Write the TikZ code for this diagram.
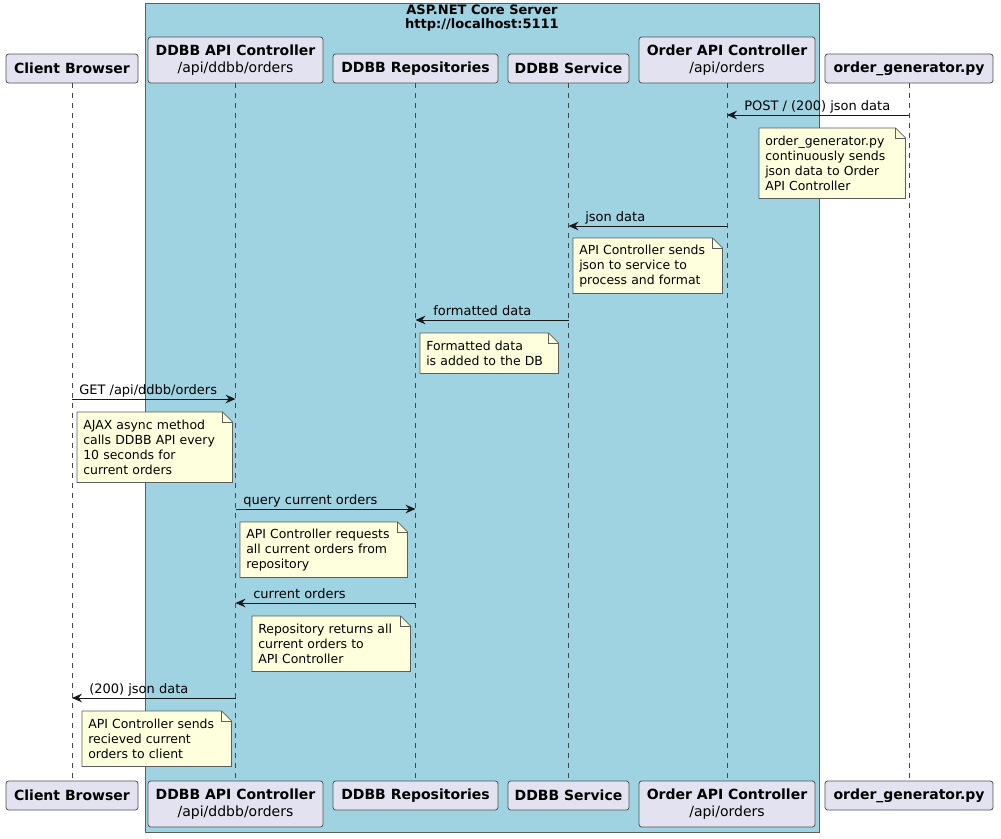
\documentclass[tikz,border=0pt]{standalone}
\usepackage{fontspec}
\setmainfont{DejaVu Sans}
\usetikzlibrary{arrows.meta,backgrounds}
\definecolor{srvblue}{RGB}{159,211,225}
\definecolor{partfill}{HTML}{E2E2F0}
\definecolor{notefill}{HTML}{FEFFDD}
\definecolor{edge}{HTML}{181818}

\begin{document}
\begin{tikzpicture}
[x=0.75pt,y=-0.75pt,
%%%%%%%%%%%%%%%%%%%%%%%%%%%%%%
part/.style={rectangle,rounded corners=2pt,draw=edge!75,line width=0.6pt,fill=partfill,minimum height=21.75pt,inner sep=0pt,align=center,font=\fontsize{10.5}{12.4}\selectfont},
twoline/.style={minimum height=34.5pt},
life/.style={draw=edge!80,line width=0.5pt,dash pattern=on 3.75pt off 3.75pt},
msg/.style={draw=edge,line width=0.75pt,-{Stealth[length=7.5pt,width=6.5pt,inset=2.5pt]}},
lbl/.style={anchor=base west,inner sep=0pt,font=\fontsize{9.75}{11.25}\selectfont},
note/.style={anchor=north west,inner xsep=4.5pt,inner ysep=0pt,align=left,font=\fontsize{9.35}{11.2}\selectfont},
fold/.style={draw=edge!70,line width=0.5pt,fill=notefill,line join=miter},
]%%%%%%%%%%%%%%%%%%%%%%%%%%%%%%
\useasboundingbox (0,0) rectangle (1001,839);

\begin{scope}[on background layer]
\filldraw[fill=srvblue,draw=edge!70,line width=0.6pt] (145,3) rectangle (819,832);
\end{scope}
\node[anchor=north,inner sep=0pt,align=center,font=\fontsize{9.75}{10.5}\selectfont\bfseries] (srv) at (482,5) {ASP.NET Core Server\\http://localhost:5111};

% participants, top
\node[part,minimum width=99pt] (cb) at (72,68.5) {\bfseries Client Browser};
\node[part,twoline,minimum width=131.25pt] (dac) at (235.5,60) {\bfseries DDBB API Controller\\/api/ddbb/orders};
\node[part,minimum width=123.75pt] (rep) at (415.5,68.5) {\bfseries DDBB Repositories};
\node[part,minimum width=90.75pt] (svc) at (568.5,68.5) {\bfseries DDBB Service};
\node[part,twoline,minimum width=132pt] (oac) at (727,60) {\bfseries Order API Controller\\/api/orders};
\node[part,minimum width=126pt] (gen) at (909,68.5) {\bfseries order\_generator.py};

% participants, bottom
\node[part,minimum width=99pt] (cb-bot) at (72,795.5) {\bfseries Client Browser};
\node[part,twoline,minimum width=131.25pt] (dac-bot) at (235.5,804) {\bfseries DDBB API Controller\\/api/ddbb/orders};
\node[part,minimum width=123.75pt] (rep-bot) at (415.5,795.5) {\bfseries DDBB Repositories};
\node[part,minimum width=90.75pt] (svc-bot) at (568.5,795.5) {\bfseries DDBB Service};
\node[part,twoline,minimum width=132pt] (oac-bot) at (727,804) {\bfseries Order API Controller\\/api/orders};
\node[part,minimum width=126pt] (gen-bot) at (909,795.5) {\bfseries order\_generator.py};

\foreach \p in {cb,dac,rep,svc,oac,gen}
\draw[life] (\p) -- (\p-bot);

% message rows
\coordinate (y1) at (0,115);
\coordinate (y2) at (0,226);
\coordinate (y3) at (0,320);
\coordinate (y4) at (0,399);
\coordinate (y5) at (0,509);
\coordinate (y6) at (0,603);
\coordinate (y7) at (0,698);

\draw[msg] (gen |- y1) -- (oac |- y1);
\draw[msg] (oac |- y2) -- (svc |- y2);
\draw[msg] (svc |- y3) -- (rep |- y3);
\draw[msg] (cb |- y4) -- (dac |- y4);
\draw[msg] (dac |- y5) -- (rep |- y5);
\draw[msg] (rep |- y6) -- (dac |- y6);
\draw[msg] (dac |- y7) -- (cb |- y7);

\node[lbl] (l1) at (744,110.5) {POST / (200) json data};
\node[lbl] (l2) at (585,221.5) {json data};
\node[lbl] (l3) at (433,315.5) {formatted data};
\node[lbl] (l4) at (79,394.5) {GET /api/ddbb/orders};
\node[lbl] (l5) at (243,504.5) {query current orders};
\node[lbl] (l6) at (253,598.5) {current orders};
\node[lbl] (l7) at (89,693.5) {(200) json data};

% notes
\node[note,text width=100.5pt,minimum height=52.5pt] (n1) at (759,128) {order\_generator.py\\continuously sends\\json data to Order\\API Controller};
\node[note,text width=102.75pt,minimum height=41.25pt] (n2) at (573,238) {API Controller sends\\json to service to\\process and format};
\node[note,text width=94.5pt,minimum height=30pt] (n3) at (420,333) {Formatted data\\is added to the DB};
\node[note,text width=107.25pt,minimum height=52.5pt] (n4) at (77,412) {AJAX async method\\calls DDBB API every\\10 seconds for\\current orders};
\node[note,text width=116.25pt,minimum height=41.25pt] (n5) at (240,522) {API Controller requests\\all current orders from\\repository};
\node[note,text width=109.5pt,minimum height=41.25pt] (n6) at (252,616) {Repository returns all\\current orders to\\API Controller};
\node[note,text width=102.75pt,minimum height=41.25pt] (n7) at (82,711) {API Controller sends\\recieved current\\orders to client};

\begin{scope}[on background layer]
\foreach \i in {1,...,7}
\filldraw[fold] (n\i.north west) -- ([xshift=-7.5pt]n\i.north east) -- ([yshift=-7.5pt]n\i.north east) -- (n\i.south east) -- (n\i.south west) -- cycle;
\end{scope}
\foreach \i in {1,...,7}
\draw[fold,fill=none] ([xshift=-7.5pt]n\i.north east) -- ([xshift=-7.5pt,yshift=-7.5pt]n\i.north east) -- ([yshift=-7.5pt]n\i.north east);
\end{tikzpicture}
\end{document}
